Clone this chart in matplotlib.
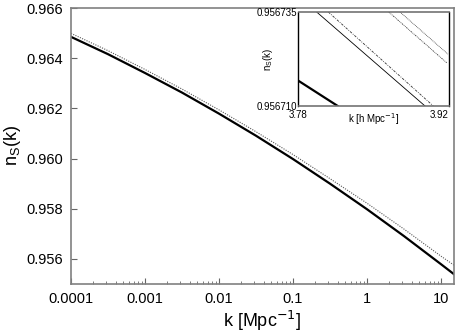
import matplotlib
matplotlib.use("Agg")
import matplotlib.pyplot as plt

plt.rcParams['font.family'] = ['Liberation Sans', 'DejaVu Sans']

# main panel: n_s(k) (half-decade steps)
k_main = [1e-4, 3.16e-4, 1e-3, 3.16e-3, 1e-2, 3.16e-2, 1e-1, 3.16e-1,
          1.0, 3.16, 10.0, 15.0]
ns_thick = [0.96485, 0.96416, 0.96341, 0.96263, 0.96179, 0.96091,
            0.95998, 0.95900, 0.95798, 0.95691, 0.95579, 0.95539]
ns_dotted = [0.96499, 0.96430, 0.96355, 0.96277, 0.96194, 0.96107,
             0.96016, 0.95920, 0.95822, 0.95719, 0.95611, 0.95575]

# inset: zoom around k ~ 3.8
k_in_thick = [3.78, 3.8165]
ns_in_thick = [0.9567167, 0.956710]
k_in_thin = [3.7969, 3.8977]
ns_in_thin = [0.956735, 0.956710]
k_in_dashdot = [3.8077, 3.9054]
ns_in_dashdot = [0.956735, 0.956710]
k_in_dotA = [3.8639, 3.9179]
ns_in_dotA = [0.956735, 0.9567215]
k_in_dotB = [3.8744, 3.9190]
ns_in_dotB = [0.956735, 0.9567238]

fig = plt.figure(figsize=(4.56, 3.36), dpi=100)
ax = fig.add_axes([71 / 456, 52 / 336, 383 / 456, 276 / 336])

ax.plot(k_main, ns_dotted, color='0.35', lw=0.8, ls=(0, (1, 1.2)))
ax.plot(k_main, ns_thick, color='black', lw=1.6)

ax.set_xscale('log')
ax.set_xlim(1e-4, 15)
ax.set_ylim(0.955, 0.966)
ax.set_xticks([1e-4, 1e-3, 1e-2, 1e-1, 1, 10])
ax.set_xticklabels(['0.0001', '0.001', '0.01', '0.1', '1', '10'])
ax.set_yticks([0.956, 0.958, 0.960, 0.962, 0.964, 0.966])
ax.set_yticklabels(['0.956', '0.958', '0.960', '0.962', '0.964', '0.966'])
ax.tick_params(which='both', direction='in', top=False, right=False,
               labelsize=10.5, color='0.4')
ax.tick_params(which='major', length=4, width=0.8, pad=6)
ax.tick_params(which='minor', length=2, width=0.6)
for s in ax.spines.values():
    s.set_color('0.5')
    s.set_linewidth(1.2)
ax.set_xlabel('k [Mpc$^{-1}$]', fontsize=13, labelpad=2)
ax.set_ylabel('n$_\\mathregular{S}$(k)', fontsize=13, labelpad=2)

# inset
axi = fig.add_axes([298.5 / 456, 230 / 336, 150.5 / 456, 94 / 336])
axi.plot(k_in_thick, ns_in_thick, color='black', lw=1.6)
axi.plot(k_in_thin, ns_in_thin, color='black', lw=0.6)
axi.plot(k_in_dashdot, ns_in_dashdot, color='0.2', lw=0.6, ls=(0, (3, 1.5, 1, 1.5)))
axi.plot(k_in_dotA, ns_in_dotA, color='0.25', lw=0.6, ls=(0, (2, 1, 1, 1, 1, 1)))
axi.plot(k_in_dotB, ns_in_dotB, color='0.25', lw=0.6, ls=(0, (1, 1)))
axi.set_xlim(3.78, 3.92)
axi.set_ylim(0.956710, 0.956735)
axi.set_xticks([3.78, 3.92])
axi.set_xticklabels(['3.78', '3.92'])
axi.get_xticklabels()[1].set_horizontalalignment('right')
axi.set_yticks([0.956710, 0.956735])
axi.set_yticklabels(['0.956710', '0.956735'])
axi.tick_params(axis='y', length=0, labelsize=7, pad=1)
axi.tick_params(axis='x', length=0, labelsize=7, pad=3)
for name in ['top', 'bottom']:
    axi.spines[name].set_color('0.45')
    axi.spines[name].set_linewidth(1.2)
for name in ['left', 'right']:
    axi.spines[name].set_color('black')
    axi.spines[name].set_linewidth(1.0)
axi.set_xlabel('k [h Mpc$^{-1}$]', fontsize=7)
axi.xaxis.set_label_coords(0.5, -0.06)
axi.set_ylabel('n$_\\mathregular{S}$(k)', fontsize=7)
axi.yaxis.set_label_coords(-23 / 150.5, 0.5)

fig.savefig('out.png', dpi=100)
